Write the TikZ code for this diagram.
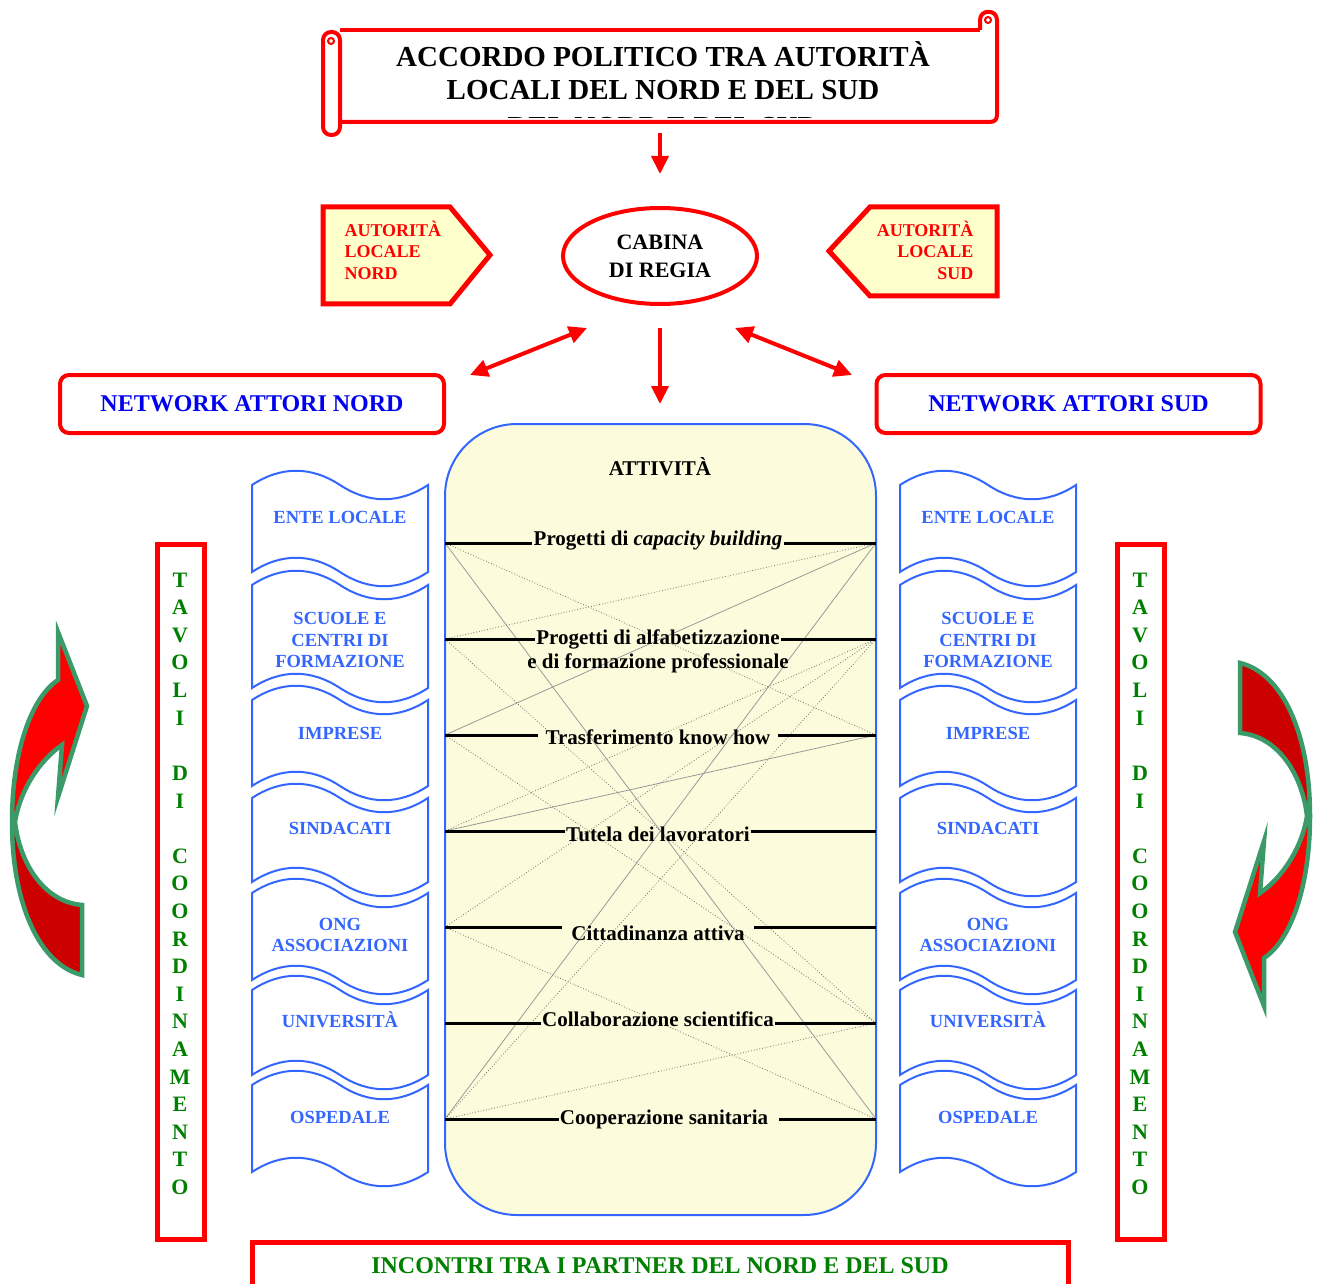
\documentclass[tikz,border=0pt]{standalone}
\usepackage{fontspec}
\setmainfont{Liberation Serif}
\usetikzlibrary{arrows.meta,shapes.geometric,calc}
\definecolor{myred}{HTML}{FF0000}
\definecolor{dred}{HTML}{CC0000}
\definecolor{wblue}{HTML}{3366FF}
\definecolor{nblue}{HTML}{0000EE}
\definecolor{tgreen}{HTML}{008000}
\definecolor{agreen}{HTML}{3A9A68}
\definecolor{pyel}{HTML}{FFFFCC}
\definecolor{byel}{HTML}{FCFCDC}
\tikzset{
  scr/.style={draw=myred, line width=4pt, line join=round},
  redarrow/.style={draw=myred, line width=4pt, -{Triangle[length=18pt,width=17pt]}},
  reddbl/.style={draw=myred, line width=4pt, {Triangle[length=18pt,width=17pt]}-{Triangle[length=18pt,width=17pt]}},
  tapest/.style={draw=wblue, line width=2pt, fill=white},
  tapetxt/.style={text=wblue, font=\fontsize{18.5}{21.5}\selectfont\bfseries, align=center},
  netbox/.style={draw=myred, line width=4pt, rounded corners=9pt, minimum width=384pt, minimum height=58pt, text=nblue, font=\fontsize{24}{28}\selectfont\bfseries},
  pentst/.style={draw=myred, line width=5pt, fill=pyel, line join=miter},
  penttxt/.style={text=myred, font=\fontsize{18}{21.5}\selectfont\bfseries},
  rowline/.style={draw=black, line width=3pt},
  rowtxt/.style={font=\fontsize{21}{25}\selectfont\bfseries, inner sep=1pt},
  xsolid/.style={draw=black!40, line width=0.8pt},
  xdot/.style={draw=black!55, line width=0.8pt, dotted},
  vbox/.style={draw=myred, line width=5pt, minimum width=47pt, minimum height=695pt},
  vtxt/.style={text=tgreen, font=\fontsize{22}{26}\selectfont\bfseries},
  carrow/.style={draw=agreen, line width=4.5pt, line join=miter, miter limit=20}
}
% #1 x0, #2 top, #3 bottom
\newcommand\tapeshape[3]{%
\draw[tapest] (#1,#2) .. controls ({#1+29},{#2-19}) and ({#1+59},{#2-19}) .. ({#1+88},#2) .. controls ({#1+117},{#2+19}) and ({#1+147},{#2+19}) .. ({#1+176},#2) -- ({#1+176},#3) .. controls ({#1+147},{#3+19}) and ({#1+117},{#3+19}) .. ({#1+88},#3) .. controls ({#1+59},{#3-19}) and ({#1+29},{#3-19}) .. (#1,#3) -- cycle;}
\newcommand\curvedarrowshape{%
\fill[myred] (12,822) .. controls (12,750) and (32,697) .. (58,680) -- (58,632) -- (87,706) -- (58,797) -- (62,745) .. controls (40,760) and (20,790) .. (15,822) -- cycle;
\fill[dred] (82,975) .. controls (40,965) and (12,905) .. (12,822) -- (15,822) .. controls (20,865) and (45,902) .. (82,905) -- cycle;
\draw[carrow] (82,975) .. controls (40,965) and (12,905) .. (12,822) .. controls (12,750) and (32,697) .. (58,680) -- (58,632) -- (87,706) -- (58,797) -- (62,745) .. controls (40,760) and (20,790) .. (15,822) .. controls (20,865) and (45,902) .. (82,905) -- cycle;}
\begin{document}
\begin{tikzpicture}[x=1pt,y=-1pt]
\useasboundingbox (0,0) rectangle (1318,1284);
\clip (0,0) rectangle (1318,1284);
\fill[white] (0,0) rectangle (1318,1284);

% ---- scroll ----
\draw[scr] (340,30) -- (980,30);
\draw[scr] (980,30) -- (980,20) .. controls (980,9) and (997,9) .. (997,20) -- (997,114) .. controls (997,120) and (995,122) .. (989,122) -- (340,122);
\draw[myred, line width=2pt] (988,20) circle (3);
\draw[scr, rounded corners=8pt] (323,32) rectangle (340,135);
\draw[myred, line width=2pt] (331,41) circle (3);
\node[font=\fontsize{29}{33}\selectfont\bfseries, align=center] (acc) at (663,71) {ACCORDO POLITICO TRA AUTORITÀ\\LOCALI DEL NORD E DEL SUD};
\begin{scope}
\clip (345,100) rectangle (990,118);
\node[font=\fontsize{29}{33}\selectfont\bfseries] (accx) at (663,127) {DEL NORD E DEL SUD};
\end{scope}

\coordinate (s1) at (660,133);
\coordinate (s2) at (660,174);
\draw[redarrow] (s1) -- (s2);

% ---- pentagons ----
\draw[pentst] (323,207) -- (450,207) -- (490,255) -- (450,304) -- (323,304) -- cycle;
\node[penttxt, align=left, anchor=west] (aln) at (341,250) {AUTORITÀ\\LOCALE\\NORD};
\draw[pentst] (997,207) -- (870,207) -- (829,251) -- (870,296) -- (997,296) -- cycle;
\node[penttxt, align=right, anchor=east] (als) at (977,250) {AUTORITÀ\\LOCALE\\SUD};

% ---- cabina ----
\node[ellipse, draw=myred, line width=4pt, minimum width=194pt, minimum height=96pt, font=\fontsize{22}{28}\selectfont\bfseries, align=center, inner sep=0pt] (cab) at (660,256) {CABINA\\DI REGIA};

\coordinate (a1) at (587,328);
\coordinate (a2) at (470,375);
\coordinate (a3) at (735,328);
\coordinate (a4) at (852,375);
\coordinate (a5) at (660,328);
\coordinate (a6) at (660,404);
\draw[reddbl] (a1) -- (a2);
\draw[reddbl] (a3) -- (a4);
\draw[redarrow] (a5) -- (a6);

% ---- network boxes ----
\node[netbox] (nn) at (252,404) {NETWORK ATTORI NORD};
\node[netbox] (ns) at (1068.5,404) {NETWORK ATTORI SUD};

% ---- central box ----
\node[draw=wblue, line width=2pt, fill=byel, rounded corners=72pt, minimum width=431pt, minimum height=791pt] (att) at (660.5,819.5) {};
\node[font=\fontsize{21}{25}\selectfont\bfseries] (atttit) at (660,467) {ATTIVITÀ};

\foreach \i/\y in {1/543,2/639,3/735,4/831,5/927,6/1023,7/1119}{
  \coordinate (L\i) at (445,\y);
  \coordinate (R\i) at (876,\y);
}
% cross connections
\foreach \a/\b in {L1/R7,R1/L7,R1/L3,L4/R3}{ \draw[xsolid] (\a) -- (\b); }
\foreach \a/\b in {L1/R3,R1/L2,L2/R6,R2/L5,R2/L7,L3/R6,L5/R7,L7/R6,R2/L4}{ \draw[xdot] (\a) -- (\b); }

\node[rowtxt] (t1) at (658,541) {Progetti di \textit{capacity building}};
\node[rowtxt] (t2) at (658,639) {Progetti di alfabetizzazione};
\node[rowtxt] (t2b) at (658,663) {e di formazione professionale};
\node[rowtxt, inner sep=7pt] (t3) at (658,737) {Trasferimento know how};
\node[rowtxt] (t4) at (658,834) {Tutela dei lavoratori};
\node[rowtxt, inner sep=9pt] (t5) at (658,933) {Cittadinanza attiva};
\node[rowtxt] (t6) at (658,1019) {Collaborazione scientifica};
\node[rowtxt, inner sep=1pt] (t7) at (669,1119) {Cooperazione sanitaria\kern10pt};
\foreach \i in {1,...,7}{
  \draw[rowline] (L\i) -- (t\i.west |- L\i);
  \draw[rowline] (t\i.east |- R\i) -- (R\i);
}

% ---- tapes ----
\foreach \x in {252,900}{
  \foreach \tp/\bt in {485/572,585/688,700/786,798/882,893/980,990/1075,1085/1172}{
    \tapeshape{\x}{\tp}{\bt}
  }
}
\foreach \s/\x in {l/340,r/988}{
  \node[tapetxt] (\s1) at (\x,517) {ENTE LOCALE};
  \node[tapetxt] (\s2) at (\x,640) {SCUOLE E\\CENTRI DI\\FORMAZIONE};
  \node[tapetxt] (\s3) at (\x,733) {IMPRESE};
  \node[tapetxt] (\s4) at (\x,828) {SINDACATI};
  \node[tapetxt] (\s5) at (\x,935) {ONG\\ASSOCIAZIONI};
  \node[tapetxt] (\s6) at (\x,1020) {UNIVERSITÀ};
  \node[tapetxt] (\s7) at (\x,1117) {OSPEDALE};
}

% ---- vertical boxes ----
\node[vbox] (vl) at (180.5,891.5) {};
\node[vbox] (vr) at (1140.5,891.5) {};
\foreach \c [count=\i from 0] in {T,A,V,O,L,I,{},D,I,{},C,O,O,R,D,I,N,A,M,E,N,T,O}{
  \node[vtxt] (vlc\i) at (180,580+27.6*\i) {\c};
  \node[vtxt] (vrc\i) at (1140,580+27.6*\i) {\c};
}

% ---- bottom box ----
\draw[draw=myred, line width=5pt] (252,1242) rectangle (1068,1310);
\node[text=tgreen, font=\fontsize{24}{28}\selectfont\bfseries] (inc) at (660,1266) {INCONTRI TRA I PARTNER DEL NORD E DEL SUD};

% ---- curved arrows ----
\curvedarrowshape
\begin{scope}[rotate around={180:(661,819)}]
\curvedarrowshape
\end{scope}
\end{tikzpicture}
\end{document}
